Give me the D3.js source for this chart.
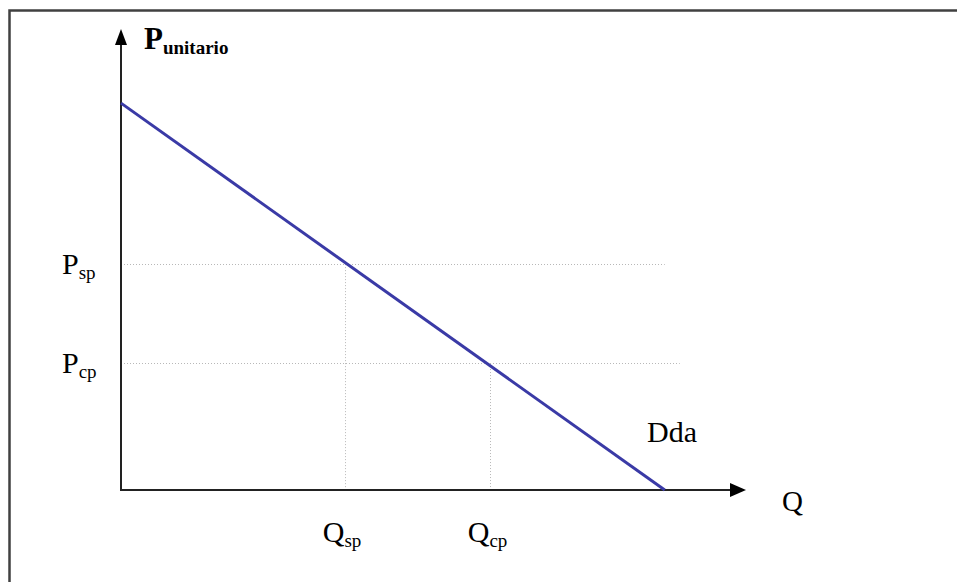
<!DOCTYPE html>
<html><head><meta charset="utf-8">
<script src="https://cdn.jsdelivr.net/npm/d3@7"></script>
<style>body{margin:0;background:#fff;overflow:hidden}svg{display:block}</style>
</head><body>
<script>
// Data (abstract units 0-100)
const demandQ = [0, 87];
const demandP = [84.1, 0];
const priceLevels = [{name:"P", sub:"sp", p:49.1, qEnd:87}, {name:"P", sub:"cp", p:27.6, qEnd:89.4}];
const qtyLevels = [{name:"Q", sub:"sp", q:35.8, p:49.1}, {name:"Q", sub:"cp", q:59.0, p:27.6}];
const curveLabel = "Dda";
const yAxisTitle = ["P", "unitario"];
const xAxisTitle = "Q";

const W = 957, H = 582;
const svg = d3.select("body").append("svg").attr("width", W).attr("height", H);
const x = d3.scaleLinear().domain([0, 100]).range([121, 746]);
const y = d3.scaleLinear().domain([0, 100]).range([490, 30]);
const serif = "'Liberation Serif','Times New Roman',serif";

// frame (open on right and bottom)
svg.append("path").attr("d", "M9.5,600 L9.5,10.5 L970,10.5")
  .attr("fill", "none").attr("stroke", "#404040").attr("stroke-width", 2.5);

// dotted guides
priceLevels.forEach(d => {
  svg.append("line").attr("x1", x(0)).attr("x2", x(d.qEnd)).attr("y1", Math.round(y(d.p)) + 0.5).attr("y2", Math.round(y(d.p)) + 0.5)
    .attr("stroke", "#b8b8b8").attr("stroke-width", 1).attr("stroke-dasharray", "1,2");
});
qtyLevels.forEach(d => {
  svg.append("line").attr("x1", Math.round(x(d.q)) + 0.5).attr("x2", Math.round(x(d.q)) + 0.5).attr("y1", y(d.p)).attr("y2", y(0))
    .attr("stroke", "#b8b8b8").attr("stroke-width", 1).attr("stroke-dasharray", "1,2");
});

// axes
svg.append("line").attr("x1", x(0)).attr("x2", x(0)).attr("y1", y(0) + 1).attr("y2", 40)
  .attr("stroke", "#222").attr("stroke-width", 2);
svg.append("line").attr("x1", x(0)).attr("x2", 736).attr("y1", y(0)).attr("y2", y(0))
  .attr("stroke", "#222").attr("stroke-width", 2);
svg.append("path").attr("d", `M${x(0)},29 L${x(0)-6},45 L${x(0)+6},45 Z`).attr("fill", "#000");
svg.append("path").attr("d", `M746,${y(0)} L730,${y(0)-7} L730,${y(0)+7} Z`).attr("fill", "#000");

// demand curve
const line = d3.line().x(d => x(d[0])).y(d => y(d[1]));
svg.append("path").datum(demandQ.map((q, i) => [q, demandP[i]])).attr("d", line)
  .attr("fill", "none").attr("stroke", "#3a3aa6").attr("stroke-width", 3);

// labels
function subLabel(xp, yp, main, sub, size, subSize, bold) {
  const t = svg.append("text").attr("x", xp).attr("y", yp).attr("font-family", serif)
    .attr("font-size", size).attr("fill", "#000").attr("font-weight", bold ? "bold" : "normal");
  t.append("tspan").text(main);
  t.append("tspan").attr("font-size", subSize).attr("dy", 5).text(sub);
}
subLabel(144, 49, yAxisTitle[0], yAxisTitle[1], 31, 19, true);
priceLevels.forEach(d => subLabel(62, y(d.p) + 10, d.name, d.sub, 30, 19, false));
qtyLevels.forEach(d => subLabel(x(d.q) - 22, 542, d.name, d.sub, 30, 19, false));
svg.append("text").attr("x", 647).attr("y", 442).attr("font-family", serif).attr("font-size", 30).text(curveLabel);
svg.append("text").attr("x", 782).attr("y", 511).attr("font-family", serif).attr("font-size", 29).text(xAxisTitle);
</script>
</body></html>
